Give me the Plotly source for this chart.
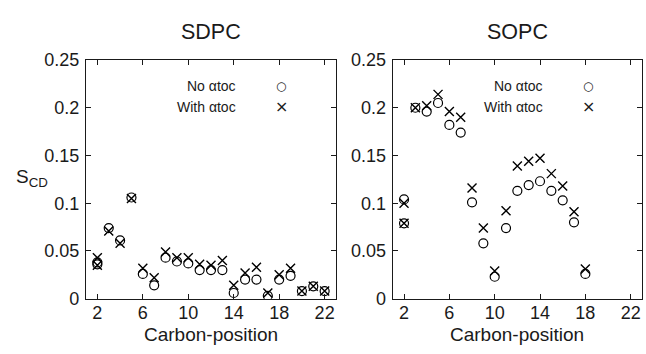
import plotly.graph_objects as go
from plotly.subplots import make_subplots

# ---- data ----
sdpc_pos = [2, 2, 3, 4, 5, 6, 7, 8, 9, 10, 11, 12, 13, 14, 15, 16, 17, 18, 19, 20, 21, 22]
sdpc_no = [0.038, 0.036, 0.074, 0.061, 0.106, 0.026, 0.014, 0.043, 0.039, 0.037, 0.030,
           0.030, 0.030, 0.006, 0.020, 0.020, 0.003, 0.020, 0.024, 0.008, 0.013, 0.008]
sdpc_with = [0.043, 0.035, 0.071, 0.058, 0.105, 0.032, 0.022, 0.049, 0.043, 0.043, 0.036,
             0.035, 0.040, 0.014, 0.027, 0.033, 0.006, 0.025, 0.032, 0.008, 0.013, 0.008]

sopc_pos = [2, 2, 3, 4, 5, 6, 7, 8, 9, 10, 11, 12, 13, 14, 15, 16, 17, 18]
sopc_no = [0.104, 0.079, 0.200, 0.196, 0.205, 0.182, 0.174, 0.101, 0.058, 0.023, 0.074,
           0.113, 0.119, 0.123, 0.113, 0.103, 0.080, 0.026]
sopc_with = [0.100, 0.079, 0.200, 0.202, 0.214, 0.196, 0.190, 0.116, 0.074, 0.029, 0.092,
             0.139, 0.144, 0.147, 0.131, 0.118, 0.091, 0.031]

x_ticks = [2, 6, 10, 14, 18, 22]
y_ticks = [0, 0.05, 0.1, 0.15, 0.2, 0.25]
y_ticktext = ["0", "0.05", "0.1", "0.15", "0.2", "0.25"]
titles = ["SDPC", "SOPC"]
legend_no = "No αtoc"
legend_with = "With αtoc"

W, H = 646, 354
FONT = "Liberation Sans"
TXT = "#1a1a1a"

fig = make_subplots(rows=1, cols=2)

panels = [(sdpc_pos, sdpc_no, sdpc_with), (sopc_pos, sopc_no, sopc_with)]
for i, (pos, no, wi) in enumerate(panels, start=1):
    fig.add_trace(go.Scatter(x=pos, y=no, mode="markers", name=legend_no, showlegend=False,
                             marker=dict(symbol="circle-open", size=9, color="black",
                                         line=dict(width=1.2, color="black"))),
                  row=1, col=i)
    fig.add_trace(go.Scatter(x=pos, y=wi, mode="markers", name=legend_with, showlegend=False,
                             marker=dict(symbol="x-thin", size=9, color="black",
                                         line=dict(width=1.4, color="black"))),
                  row=1, col=i)

px = lambda v: v / W
py = lambda v: 1 - v / H

dom_x = [[px(86), px(336)], [px(392.7), px(642)]]
dom_y = [py(306), py(53)]

axis_common = dict(showline=True, linecolor="#1a1a1a", linewidth=1.3, mirror="ticks",
                   ticks="inside", ticklen=5, tickwidth=1, tickcolor="#1a1a1a",
                   showgrid=False, zeroline=False, ticklabeloverflow="allow",
                   tickfont=dict(family=FONT, size=18, color=TXT))
for i in (1, 2):
    sx = "xaxis" if i == 1 else "xaxis2"
    sy = "yaxis" if i == 1 else "yaxis2"
    fig.layout[sx].update(domain=dom_x[i - 1], range=[1, 23], tickvals=x_ticks,
                          ticktext=[str(t) for t in x_ticks], ticklabelstandoff=-2,
                          **axis_common)
    fig.layout[sy].update(domain=dom_y, range=[0, 0.25], tickvals=y_ticks,
                          ticktext=y_ticktext, ticklabelstandoff=2, **axis_common)

ann = []
centers = [211, 517]
for c, t in zip(centers, titles):
    ann.append(dict(x=px(c), y=py(23), xref="paper", yref="paper", text=t, showarrow=False,
                    xanchor="center", yanchor="middle",
                    font=dict(family=FONT, size=21.5, color=TXT)))
    ann.append(dict(x=px(c), y=py(344), xref="paper", yref="paper", text="Carbon-position",
                    showarrow=False, xanchor="center", yanchor="middle",
                    font=dict(family=FONT, size=19, color=TXT)))
# legends (text + symbol glyph)
for tx_right, sym_x in [(238, 281), (545, 588)]:
    ann.append(dict(x=px(tx_right), y=py(81), xref="paper", yref="paper", text=legend_no,
                    showarrow=False, xanchor="right", yanchor="middle",
                    font=dict(family=FONT, size=14, color=TXT)))
    ann.append(dict(x=px(tx_right), y=py(102.5), xref="paper", yref="paper", text=legend_with,
                    showarrow=False, xanchor="right", yanchor="middle",
                    font=dict(family=FONT, size=14, color=TXT)))
    ann.append(dict(x=px(sym_x), y=py(81), xref="paper", yref="paper", text="○",
                    showarrow=False, xanchor="center", yanchor="middle",
                    font=dict(family="DejaVu Sans", size=12, color=TXT)))
    ann.append(dict(x=px(sym_x), y=py(102.5), xref="paper", yref="paper", text="×",
                    showarrow=False, xanchor="center", yanchor="middle",
                    font=dict(family="DejaVu Sans", size=16, color=TXT)))
# y label
ann.append(dict(x=px(32), y=py(178), xref="paper", yref="paper", text="S<sub>CD</sub>",
                showarrow=False, xanchor="center", yanchor="middle",
                font=dict(family=FONT, size=19, color=TXT)))

fig.update_layout(width=W, height=H, margin=dict(l=0, r=0, t=0, b=0),
                  paper_bgcolor="white", plot_bgcolor="white", annotations=ann,
                  showlegend=False)

fig.write_html("out.html", config={"displayModeBar": False},
               post_script="document.body.style.margin='0';document.body.style.overflow='hidden';")
